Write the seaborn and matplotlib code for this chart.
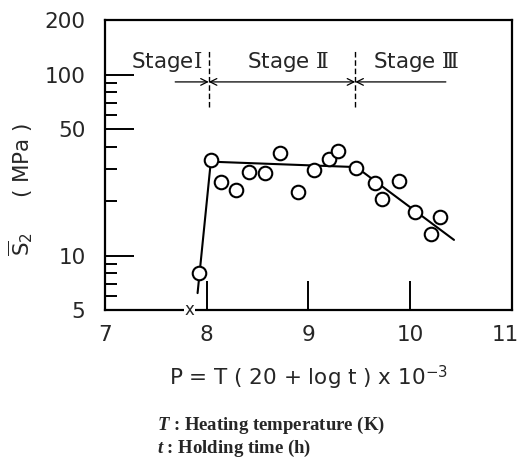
"""
Creep parameter plot: S2 versus Larson-Miller parameter P, three stages.
"""

import numpy as np
import pandas as pd
import matplotlib
matplotlib.use('Agg')
import matplotlib.pyplot as plt
import matplotlib.transforms as mtransforms
import seaborn as sns

# measured points (circles)
p_values = [7.92, 8.04, 8.14, 8.29, 8.42, 8.57, 8.72, 8.90, 9.05, 9.20,
            9.29, 9.47, 9.65, 9.72, 9.89, 10.05, 10.29, 10.20]
s2_values = [8.0, 33.7, 25.4, 23.0, 29.0, 28.5, 37.0, 22.5, 29.7, 34.0,
             37.9, 30.3, 25.1, 20.4, 25.9, 17.5, 16.4, 13.1]

# fitted trend line
fit_p = [7.91, 8.04, 9.47, 10.43]
fit_s2 = [6.2, 33.0, 30.8, 12.2]

# point below range, shown as x on the axis
fail_p = 7.83
fail_s2 = 5

stage_bounds = [8.02, 9.46]
stage_labels = [r'Stage$\mathrm{Ⅰ}$', r'Stage $\mathrm{Ⅱ}$', r'Stage $\mathrm{Ⅲ}$']
stage_label_p = [7.61, 8.80, 10.06]

x_ticks = [7, 8, 9, 10, 11]
y_ticks = [5, 10, 50, 100, 200]
y_minor = [6, 7, 8, 9, 20, 30, 40, 60, 70, 80, 90]

sns.set_style('ticks')
plt.rcParams['font.family'] = ['DejaVu Sans']
plt.rcParams['mathtext.fontset'] = 'custom'
plt.rcParams['mathtext.rm'] = 'DejaVu Serif'
plt.rcParams['mathtext.sf'] = 'DejaVu Sans'
plt.rcParams['mathtext.it'] = 'Liberation Serif:italic:bold'

df = pd.DataFrame({'P': p_values, 'S2': s2_values})
fit_df = pd.DataFrame({'P': fit_p, 'S2': fit_s2})

fig = plt.figure(figsize=(5.21, 4.61), dpi=100)
ax = fig.add_axes([0.2015, 0.3275, 0.7812, 0.6291])

sns.lineplot(data=fit_df, x='P', y='S2', color='black', linewidth=1.5,
             sort=False, ax=ax, zorder=2)
sns.scatterplot(data=df, x='P', y='S2', marker='o', s=95, facecolor='white',
                edgecolor='black', linewidth=1.5, ax=ax, zorder=3)

ax.set_yscale('log')
ax.set_xlim(7, 11)
ax.set_ylim(5, 200)

ax.set_xticks(x_ticks)
ax.set_xticklabels([str(t) for t in x_ticks])
ax.set_yticks(y_ticks)
ax.set_yticklabels([str(t) for t in y_ticks])
ax.set_yticks(y_minor, minor=True)
ax.yaxis.set_minor_formatter(matplotlib.ticker.NullFormatter())
ax.tick_params(axis='both', which='major', direction='in', length=21,
               width=1.4, labelsize=15.5, color='black')
ax.tick_params(axis='x', which='major', pad=11)
ax.tick_params(axis='y', which='major', pad=14)
ax.tick_params(axis='y', which='minor', direction='in', length=8.5,
               width=1.4, color='black')
for s in ax.spines.values():
    s.set_linewidth(1.6)
    s.set_color('black')

# nudge the last x label so it stays inside the figure
last = ax.get_xticklabels()[-1]
last.set_transform(last.get_transform() +
                   mtransforms.ScaledTranslation(-5 / 72, 0, fig.dpi_scale_trans))

ax.text(fail_p, fail_s2, 'x', ha='center', va='center', fontsize=12,
        bbox=dict(facecolor='white', edgecolor='none', pad=0.5), zorder=5,
        clip_on=False)

# stage boundaries and arrows
for b in stage_bounds:
    ax.plot([b, b], [66, 136], color='black', linestyle=(0, (4, 2)), linewidth=1)
arrow_y = 91
arrow_kw = dict(arrowstyle='->', color='black', lw=0.9, mutation_scale=12,
                shrinkA=0, shrinkB=0)
ax.annotate('', xy=(stage_bounds[0], arrow_y), xytext=(7.69, arrow_y),
            arrowprops=arrow_kw)
ax.annotate('', xy=(stage_bounds[1], arrow_y), xytext=(stage_bounds[0], arrow_y),
            arrowprops=dict(arrow_kw, arrowstyle='<->'))
ax.annotate('', xy=(stage_bounds[1], arrow_y), xytext=(10.35, arrow_y),
            arrowprops=arrow_kw)
for lbl, xp in zip(stage_labels, stage_label_p):
    ax.text(xp, 117, lbl, ha='center', va='center', fontsize=15.5)

ax.set_xlabel(r'P = T ( 20 + log t ) x 10$^{\mathsf{-3}}$', fontsize=15.5,
              labelpad=13)
ax.set_ylabel(r'$\overline{\mathsf{S}}_{\mathsf{2}}$     ( MPa )', fontsize=15.5)
ax.yaxis.set_label_coords(-0.172, 0.417)

fig.text(157 / 521, 1 - 425 / 461,
         r'$\it{T}$ : Heating temperature (K)', family='Liberation Serif',
         fontweight='bold', fontsize=13.5, va='center')
fig.text(157 / 521, 1 - 448 / 461,
         r'$\it{t}$ : Holding time (h)', family='Liberation Serif',
         fontweight='bold', fontsize=13.5, va='center')

plt.savefig('out.png', dpi=100)
plt.close()
